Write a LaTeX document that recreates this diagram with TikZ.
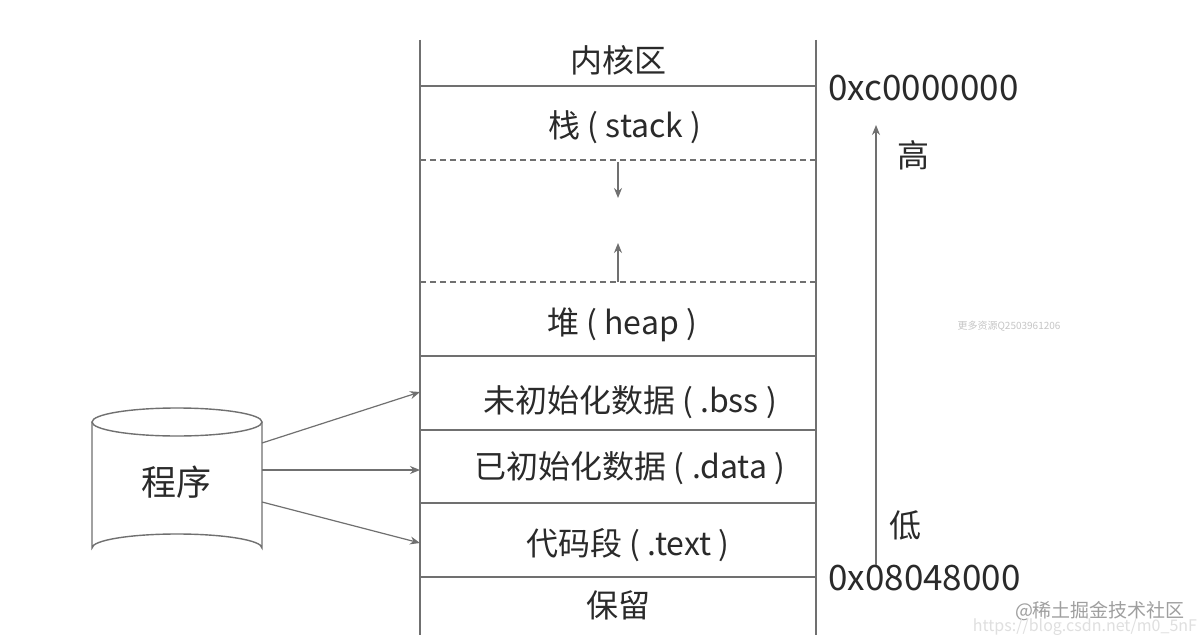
\documentclass[tikz,border=0pt]{standalone}
\usepackage{fontspec}
\setmainfont{Noto Sans CJK SC}
\usetikzlibrary{arrows.meta}
\definecolor{ln}{HTML}{707070}
\definecolor{tx}{HTML}{2A2A2A}
\begin{document}
\begin{tikzpicture}[x=0.5pt,y=-0.5pt,
  lab/.style={text=tx,font=\fontsize{16}{18}\selectfont,inner sep=0pt},
  adr/.style={text=tx,font=\fontsize{17.5}{19}\selectfont,inner sep=0pt,anchor=west},
  sep/.style={ln,line width=0.6pt},
  dsep/.style={ln,line width=0.6pt,dash pattern=on 3pt off 2pt},
  arr/.style={ln,line width=0.6pt,-{Stealth[length=5pt,width=4pt]}},
  wm/.style={text=gray!45,inner sep=0pt}]
\useasboundingbox (0,0) rectangle (1200,642);
\fill[white] (0,0) rectangle (1200,642);
% frame
\draw[sep] (420,40) -- (420,635);
\draw[sep] (816,40) -- (816,635);
\foreach \y in {86,356,430,503,577} \draw[sep] (420,\y) -- (816,\y);
\foreach \y in {160,282} \draw[dsep] (420,\y) -- (816,\y);
% labels
\node[lab] (k) at (618,60) {内核区};
\node[lab] (s) at (625,127) {栈 ( stack )};
\node[lab] (h) at (622,325) {堆 ( heap )};
\node[lab] (b) at (630,402) {未初始化数据 ( .bss )};
\node[lab] (d) at (630,468) {已初始化数据 ( .data )};
\node[lab] (t) at (628,545) {代码段 ( .text )};
\node[lab] (r) at (618,605) {保留};
% small arrows
\coordinate (sa1) at (618,162); \coordinate (sa2) at (618,198);
\coordinate (sb1) at (618,282); \coordinate (sb2) at (618,243);
\draw[arr] (sa1) -- (sa2);
\draw[arr] (sb1) -- (sb2);
% addresses
\node[adr] (a1) at (828,88) {0xc0000000};
\node[adr] (a2) at (828,578) {0x08048000};
\coordinate (g1) at (876,565); \coordinate (g2) at (876,125);
\draw[arr] (g1) -- (g2);
\node[lab] (hi) at (913,155) {高};
\node[lab] (lo) at (905,525) {低};
% cylinder
\draw[ln,line width=0.7pt,fill=white] (92,422) -- (92,548) arc[start angle=180,end angle=360,x radius=85,y radius=14] -- (262,422);
\draw[ln,line width=0.7pt,fill=white] (177,422) ellipse[x radius=85,y radius=14];
\node[lab,font=\fontsize{17.5}{19}\selectfont] (p) at (176,482) {程序};
\coordinate (c1) at (262,443); \coordinate (c2) at (262,470); \coordinate (c3) at (262,502);
\coordinate (e1) at (420,392); \coordinate (e2) at (420,470); \coordinate (e3) at (420,543);
\draw[arr] (c1) -- (e1);
\draw[arr] (c2) -- (e2);
\draw[arr] (c3) -- (e3);
% watermarks
\node[wm,font=\fontsize{5}{6}\selectfont] (w1) at (1009,326) {更多资源Q2503961206};
\node[wm,text=gray!75,font=\fontsize{9.5}{11}\selectfont] (w2) at (1100,611) {@稀土掘金技术社区};
\node[wm,text=gray!25,font=\fontsize{8}{9}\selectfont] (w3) at (1085,627) {https://blog.csdn.net/m0\_5nF};
\end{tikzpicture}
\end{document}
